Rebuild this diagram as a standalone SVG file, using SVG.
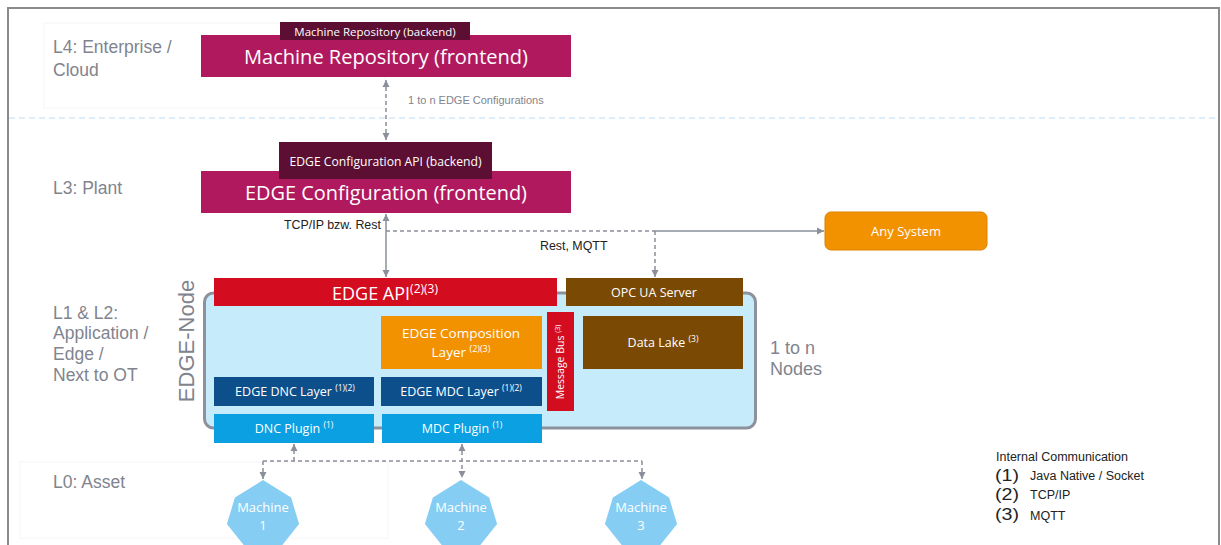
<svg xmlns="http://www.w3.org/2000/svg" width="1221" height="545" viewBox="0 0 1221 545">
<defs>
<style>
.lvl{font-family:"Liberation Sans",Arial,sans-serif;font-size:17.5px;fill:#7f848e}
.box{font-family:"Open Sans","Noto Sans",sans-serif;fill:#fff;text-anchor:middle}
.lbl{font-family:"Liberation Sans",Arial,sans-serif;fill:#222}
.conn{stroke:#8a8f9a;stroke-width:1.5;fill:none}
.dash{stroke-dasharray:4 3}
</style>
<marker id="ah" markerWidth="8" markerHeight="8" refX="7" refY="4" orient="auto-start-reverse" markerUnits="userSpaceOnUse">
<path d="M0,0.5 L7,4 L0,7.5 Z" fill="#8a8f9a"/>
</marker>
</defs>
<rect width="1221" height="545" fill="#fff"/>
<!-- frame -->
<path d="M8,545 V8 H1219 V545" fill="none" stroke="#8a8a8a" stroke-width="2"/>
<rect x="44" y="23" width="341" height="85" fill="none" stroke="#f6f6f6" stroke-width="1"/>
<rect x="20" y="462" width="368" height="76" fill="none" stroke="#f6f6f6" stroke-width="1"/>
<line x1="9" y1="118" x2="1218" y2="118" stroke="#bcdcf5" stroke-width="1.2" stroke-dasharray="6 4"/>

<!-- level labels -->
<g id="levels">
<text class="lvl" x="53" y="53">L4: Enterprise /</text>
<text class="lvl" x="53" y="76">Cloud</text>
<text class="lvl" x="53" y="194">L3: Plant</text>
<text class="lvl" x="53" y="319">L1 &amp; L2:</text>
<text class="lvl" x="53" y="339">Application /</text>
<text class="lvl" x="53" y="360">Edge /</text>
<text class="lvl" x="53" y="381">Next to OT</text>
<text class="lvl" x="53" y="488">L0: Asset</text>
<text class="lvl" x="770" y="354" style="font-size:18px">1 to n</text>
<text class="lvl" x="770" y="375" style="font-size:18px">Nodes</text>
</g>

<!-- connectors -->
<g id="connectors">
<line class="conn dash" x1="386" y1="80" x2="386" y2="140" marker-start="url(#ah)" marker-end="url(#ah)"/>
<line class="conn" x1="386" y1="214" x2="386" y2="277" marker-start="url(#ah)" marker-end="url(#ah)"/>
<line class="conn dash" x1="386" y1="231" x2="655" y2="231"/>
<line class="conn" x1="655" y1="231" x2="824" y2="231" marker-end="url(#ah)"/>
<line class="conn dash" x1="655" y1="231" x2="655" y2="277" marker-end="url(#ah)"/>
<line class="conn dash" x1="263" y1="461" x2="642" y2="461"/>
<line class="conn dash" x1="294" y1="461" x2="294" y2="444" marker-end="url(#ah)"/>
<line class="conn dash" x1="462" y1="444" x2="462" y2="478" marker-start="url(#ah)" marker-end="url(#ah)"/>
<line class="conn dash" x1="263" y1="461" x2="263" y2="479" marker-end="url(#ah)"/>
<line class="conn dash" x1="642" y1="461" x2="642" y2="479" marker-end="url(#ah)"/>
<text class="lbl" x="408" y="104" font-size="11" style="fill:#7f848e">1 to n EDGE Configurations</text>
<text class="lbl" x="284" y="229" font-size="12.4">TCP/IP bzw. Rest</text>
<text class="lbl" x="540" y="250" font-size="12.4">Rest, MQTT</text>
</g>

<!-- L4 -->
<g id="machine-repo-frontend">
<rect x="201" y="35" width="370" height="42" fill="#b1195f"/>
<text class="box" x="386" y="64" font-size="20" textLength="284" lengthAdjust="spacingAndGlyphs">Machine Repository (frontend)</text>
</g>
<g id="machine-repo-backend">
<rect x="280" y="22" width="190" height="18" fill="#5c0f32"/>
<text class="box" x="375" y="35.5" font-size="11.5">Machine Repository (backend)</text>
</g>

<!-- L3 -->
<g id="edge-config-frontend">
<rect x="201" y="171" width="370" height="42" fill="#b1195f"/>
<text class="box" x="386" y="200" font-size="20" textLength="282" lengthAdjust="spacingAndGlyphs">EDGE Configuration (frontend)</text>
</g>
<g id="edge-config-backend">
<rect x="279" y="142" width="213" height="37" fill="#5c0f32"/>
<text class="box" x="385.5" y="166" font-size="12" textLength="192" lengthAdjust="spacingAndGlyphs">EDGE Configuration API (backend)</text>
</g>

<g id="any-system">
<rect x="825" y="212" width="162" height="38" rx="6" fill="#f39200" stroke="#d98200" stroke-width="1"/>
<text class="box" x="906" y="236" font-size="13">Any System</text>
</g>

<!-- EDGE node -->
<g id="edge-node">
<rect x="204.5" y="293" width="551" height="135" rx="9" fill="#c6ecfc" stroke="#8c919b" stroke-width="3"/>
<text transform="translate(194,341) rotate(-90)" text-anchor="middle" font-family="Liberation Sans,Arial,sans-serif" font-size="22" fill="#7f848e">EDGE-Node</text>
</g>
<g id="edge-api">
<rect x="214" y="278" width="343" height="28" fill="#d40c1f"/>
<text class="box" x="385" y="300" font-size="18">EDGE API<tspan font-size="12" dy="-7">(2)(3)</tspan></text>
</g>
<g id="opc-ua">
<rect x="566" y="278" width="177" height="28" fill="#7a4a05"/>
<text class="box" x="654" y="297" font-size="12.5">OPC UA Server</text>
</g>
<g id="composition">
<rect x="381" y="316" width="161" height="53" fill="#f39200"/>
<text class="box" x="461" y="338" font-size="13.5">EDGE Composition</text>
<text class="box" x="461" y="357" font-size="13.5">Layer <tspan font-size="9" dy="-5">(2)(3)</tspan></text>
</g>
<g id="message-bus">
<rect x="547" y="312" width="27" height="99" fill="#d40c1f"/>
<text class="box" transform="translate(564,362) rotate(-90)" font-size="10.5">Message Bus <tspan font-size="7" dy="-4">(3)</tspan></text>
</g>
<g id="data-lake">
<rect x="583" y="316" width="160" height="53" fill="#7a4a05"/>
<text class="box" x="663" y="347" font-size="12.5">Data Lake <tspan font-size="8.5" dy="-5">(3)</tspan></text>
</g>
<g id="dnc-layer">
<rect x="214" y="377" width="160" height="29" fill="#0d4f8b"/>
<text class="box" x="295" y="396" font-size="12.5">EDGE DNC Layer <tspan font-size="8.5" dy="-5">(1)(2)</tspan></text>
</g>
<g id="mdc-layer">
<rect x="381" y="377" width="161" height="29" fill="#0d4f8b"/>
<text class="box" x="461" y="396" font-size="12.5">EDGE MDC Layer <tspan font-size="8.5" dy="-5">(1)(2)</tspan></text>
</g>
<g id="dnc-plugin">
<rect x="214" y="414" width="160" height="29" fill="#0aa0e2"/>
<text class="box" x="294" y="433" font-size="12.5">DNC Plugin <tspan font-size="8.5" dy="-5">(1)</tspan></text>
</g>
<g id="mdc-plugin">
<rect x="382" y="414" width="160" height="29" fill="#0aa0e2"/>
<text class="box" x="462" y="433" font-size="12.5">MDC Plugin <tspan font-size="8.5" dy="-5">(1)</tspan></text>
</g>

<!-- machines -->
<g id="machine-1">
<polygon points="263,480 291.1,497.6 299.1,524 279.6,548.4 246.4,548.4 226.9,524 234.9,497.6" fill="#86cdf3"/>
<text class="box" x="263" y="512" font-size="13" font-family="Liberation Sans,Arial,sans-serif">Machine</text>
<text class="box" x="263" y="530" font-size="13" font-family="Liberation Sans,Arial,sans-serif">1</text>
</g>
<g id="machine-2">
<polygon points="461,480 489.1,497.6 497.1,524 477.6,548.4 444.4,548.4 424.9,524 432.9,497.6" fill="#86cdf3"/>
<text class="box" x="461" y="512" font-size="13" font-family="Liberation Sans,Arial,sans-serif">Machine</text>
<text class="box" x="461" y="530" font-size="13" font-family="Liberation Sans,Arial,sans-serif">2</text>
</g>
<g id="machine-3">
<polygon points="641,480 669.1,497.6 677.1,524 657.6,548.4 624.4,548.4 604.9,524 612.9,497.6" fill="#86cdf3"/>
<text class="box" x="641" y="512" font-size="13" font-family="Liberation Sans,Arial,sans-serif">Machine</text>
<text class="box" x="641" y="530" font-size="13" font-family="Liberation Sans,Arial,sans-serif">3</text>
</g>

<!-- legend -->
<g id="legend">
<text class="lbl" x="996" y="461" font-size="12.5">Internal Communication</text>
<text class="lbl" x="995" y="481" font-size="17" textLength="24" lengthAdjust="spacingAndGlyphs">(1)</text>
<text class="lbl" x="1030" y="480" font-size="12.5">Java Native / Socket</text>
<text class="lbl" x="995" y="500" font-size="17" textLength="24" lengthAdjust="spacingAndGlyphs">(2)</text>
<text class="lbl" x="1030" y="499" font-size="12.5">TCP/IP</text>
<text class="lbl" x="995" y="520" font-size="17" textLength="24" lengthAdjust="spacingAndGlyphs">(3)</text>
<text class="lbl" x="1030" y="520" font-size="12.5">MQTT</text>
</g>
</svg>
